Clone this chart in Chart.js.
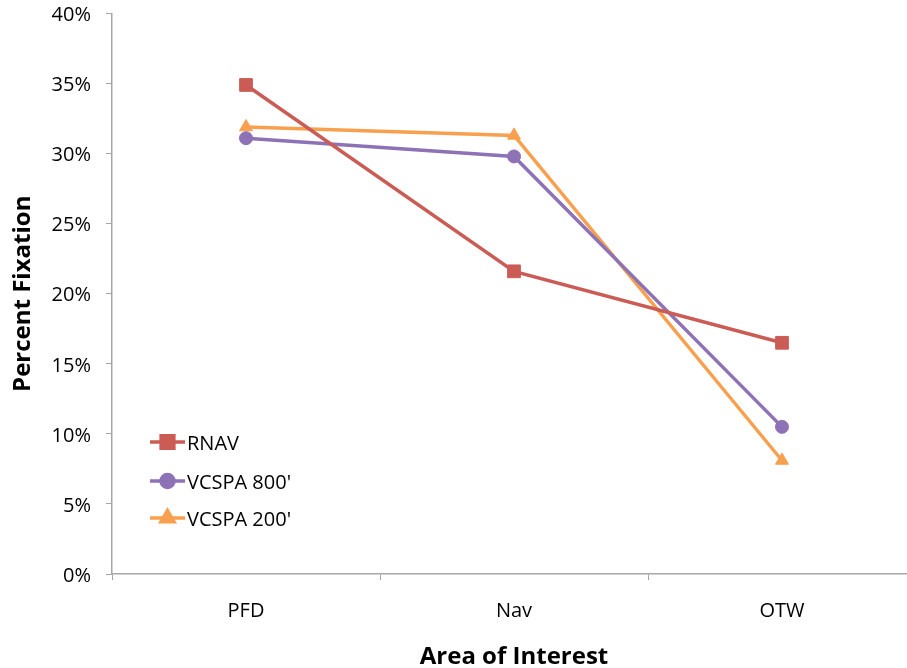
<!DOCTYPE html>
<html>
<head>
<meta charset="utf-8">
<script src="https://cdn.jsdelivr.net/npm/chart.js@4.4.1/dist/chart.umd.min.js"></script>
<style>
  html, body { margin: 0; padding: 0; background: #fff; overflow: hidden; }
  #wrap { width: 907px; height: 668px; overflow: hidden; position: relative; }
  canvas { display: block; }
</style>
</head>
<body>
<div id="wrap"><canvas id="c" width="930" height="680"></canvas></div>
<script>
// Areas of interest and share of fixations (%) per approach type
const categories = ['PFD', 'Nav', 'OTW'];
const seriesNames = ['RNAV', "VCSPA 800'", "VCSPA 200'"];
const rnav = [34.9, 21.6, 16.5];
const vcspa800 = [31.1, 29.8, 10.5];
const vcspa200 = [31.9, 31.3, 8.1];
const yTicks = [0, 5, 10, 15, 20, 25, 30, 35, 40];

const colors = ['#CB5C55', '#8D72B5', '#F9A04F'];
const markers = ['rect', 'circle', 'triangle'];
const markerRadius = [9, 6.5, 7.5];
const FONT = 'Open Sans, Lato, sans-serif';
const AXIS = '#A6A6A6';

// Legend drawn inside the plot area, bottom-left
const innerLegend = {
  id: 'innerLegend',
  afterDatasetsDraw(chart) {
    const ctx = chart.ctx;
    const x0 = chart.scales.x.left + 38;
    const rows = [442, 481, 518];
    chart.data.datasets.forEach((ds, i) => {
      const y = rows[i];
      ctx.save();
      ctx.strokeStyle = ds.borderColor;
      ctx.lineWidth = 3.5;
      ctx.beginPath();
      ctx.moveTo(x0, y);
      ctx.lineTo(x0 + 35, y);
      ctx.stroke();
      ctx.fillStyle = ds.backgroundColor;
      ctx.strokeStyle = ds.backgroundColor;
      Chart.helpers.drawPoint(ctx, {
        pointStyle: ds.pointStyle, radius: ds.pointRadius, borderWidth: 1
      }, x0 + 17.5, y);
      ctx.fillStyle = '#000';
      ctx.font = '20px ' + FONT;
      ctx.textBaseline = 'middle';
      ctx.textAlign = 'left';
      ctx.fillText(ds.label, x0 + 37, y + 2);
      ctx.restore();
    });
  }
};

const values = [rnav, vcspa800, vcspa200];
const datasets = seriesNames.map((name, i) => ({
  label: name,
  data: values[i],
  borderColor: colors[i],
  backgroundColor: colors[i],
  borderWidth: 3.5,
  pointStyle: markers[i],
  pointRadius: markerRadius[i],
  pointHoverRadius: markerRadius[i],
  pointBorderWidth: 1,
  tension: 0,
  clip: false
}));

new Chart(document.getElementById('c'), {
  type: 'line',
  data: { labels: categories, datasets },
  plugins: [innerLegend],
  options: {
    responsive: false,
    animation: false,
    events: [],
    layout: { padding: { top: 13.5, right: 14, left: 0, bottom: 0 } },
    plugins: { legend: { display: false }, tooltip: { enabled: false } },
    scales: {
      x: {
        type: 'category',
        offset: true,
        grid: {
          display: true, drawOnChartArea: false, drawTicks: true,
          tickLength: 6, color: AXIS, offset: true
        },
        border: { display: true, color: AXIS, width: 1.5 },
        ticks: { color: '#000', font: { family: FONT, size: 20 }, padding: 19 },
        title: {
          display: true, text: 'Area of Interest', color: '#000',
          font: { family: FONT, size: 24, weight: 'bold' }, padding: { top: 0, bottom: 8 }
        },
        afterFit(scale) { scale.height = 680 - 574; scale.paddingLeft = 0; scale.paddingRight = 0; }
      },
      y: {
        min: 0, max: 40,
        afterBuildTicks(scale) { scale.ticks = yTicks.map(v => ({ value: v })); },
        grid: {
          display: true, drawOnChartArea: false, drawTicks: true,
          tickLength: 6, color: AXIS
        },
        border: { display: true, color: AXIS, width: 1.5 },
        ticks: {
          color: '#000', font: { family: FONT, size: 20 }, padding: 15,
          labelOffset: 2,
          callback: v => v + '%'
        },
        title: {
          display: true, text: 'Percent Fixation', color: '#000',
          font: { family: FONT, size: 24, weight: 'bold' }, padding: { bottom: 0, top: 9 }
        },
        afterFit(scale) { scale.width = 112; scale.paddingTop = 0; scale.paddingBottom = 0; }
      }
    }
  }
});
</script>
</body>
</html>
